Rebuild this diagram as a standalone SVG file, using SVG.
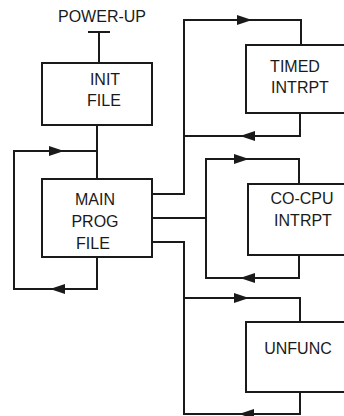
<svg xmlns="http://www.w3.org/2000/svg" width="344" height="416" viewBox="0 0 344 416">
<style>
.box{fill:#fff;stroke:#1a1a1a;stroke-width:2}
.ln{fill:none;stroke:#1a1a1a;stroke-width:2;stroke-linejoin:miter}
text{font-family:"Liberation Sans",Arial,sans-serif;font-size:16px;fill:#1a1a1a;text-anchor:middle}
</style>
<defs>
<marker id="arr" markerUnits="userSpaceOnUse" markerWidth="16" markerHeight="12" refX="15" refY="5" orient="auto">
<path d="M0,0 L15,5 L0,10 Z" fill="#1a1a1a"/>
</marker>
</defs>
<rect width="344" height="416" fill="#fff"/>
<g id="connectors">
<path class="ln" d="M88,32 H110 M99,32 V63"/>
<path class="ln" d="M97,125 V179"/>
<path class="ln" d="M97,179 V151 H14 V289 H97 V257"/>
<path class="ln" d="M14,151 H64" marker-end="url(#arr)"/>
<path class="ln" d="M97,289 H50" marker-end="url(#arr)"/>
<path class="ln" d="M152,194 H184 V20 H301 V45 M300,113 V136 H184 V194"/>
<path class="ln" d="M184,20 H252" marker-end="url(#arr)"/>
<path class="ln" d="M300,136 H240" marker-end="url(#arr)"/>
<path class="ln" d="M152,218 H206 M299,184 V159 H206 V278 H299 V255"/>
<path class="ln" d="M206,159 H249" marker-end="url(#arr)"/>
<path class="ln" d="M299,278 H240" marker-end="url(#arr)"/>
<path class="ln" d="M152,242 H184 V414 H300 V392 M300,322 V298 H184"/>
<path class="ln" d="M184,298 H249" marker-end="url(#arr)"/>
<path class="ln" d="M300,414 H239" marker-end="url(#arr)"/>
</g>
<text id="power-up" x="102" y="22">POWER-UP</text>
<g id="init">
<rect class="box" x="42" y="63" width="110" height="62"/>
<text x="105" y="85">INIT</text>
<text x="104" y="106">FILE</text>
</g>
<g id="main">
<rect class="box" x="42" y="179" width="110" height="78"/>
<text x="95" y="205">MAIN</text>
<text x="95" y="227">PROG</text>
<text x="93" y="249">FILE</text>
</g>
<g id="timed">
<rect class="box" x="246" y="45" width="110" height="68"/>
<text x="295" y="72">TIMED</text>
<text x="300" y="93">INTRPT</text>
</g>
<g id="cocpu">
<rect class="box" x="248" y="184" width="110" height="71"/>
<text x="302" y="204">CO-CPU</text>
<text x="303" y="226">INTRPT</text>
</g>
<g id="unfunc">
<rect class="box" x="246" y="322" width="110" height="70"/>
<text x="298" y="354">UNFUNC</text>
</g>
</svg>
